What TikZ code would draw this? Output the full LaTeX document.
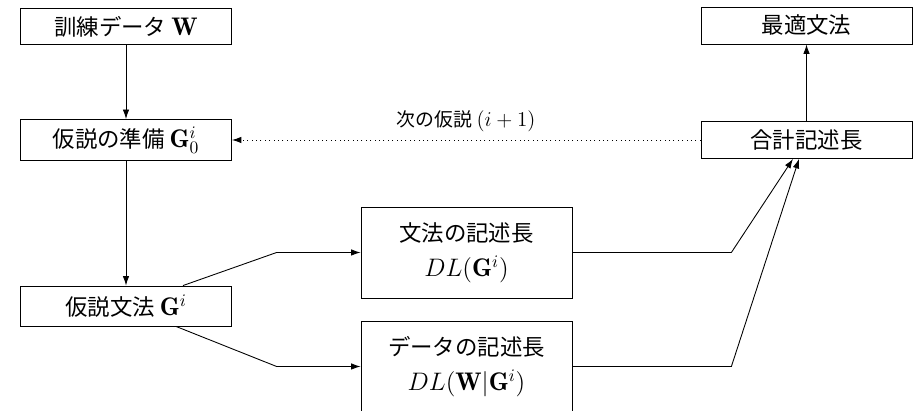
\documentclass[tikz,border=0pt]{standalone}
\usepackage{fontspec}
\newfontfamily\jp[Scale=0.88]{Noto Sans CJK JP}
\usetikzlibrary{calc,arrows.meta}
\begin{document}
\begin{tikzpicture}[x=0.02cm,y=-0.02cm,>={Latex[length=1.9mm,width=1.3mm]},line width=0.5pt,
  box/.style={draw, minimum width=4.22cm, inner sep=0pt, align=center, font=\fontsize{14.5}{17}\selectfont\jp}]
  \useasboundingbox (0,0) rectangle (917,411);

  \node[box,minimum height=0.72cm] at (126,26.5) (train) {訓練データ $\mathbf{W}$};
  \node[box,minimum height=0.82cm] at (126,140) (prep) {仮説の準備 $\mathbf{G}_0^i$};
  \node[box,minimum height=0.80cm] at (126,306) (hyp) {仮説文法 $\mathbf{G}^i$};

  \node[box,minimum height=1.82cm] at (466.5,252.5) (dlg) {文法の記述長\\[3pt]$DL(\mathbf{G}^i)$};
  \node[box,minimum height=1.82cm] at (466.5,366.5) (dld) {データの記述長\\[3pt]$DL(\mathbf{W}|\mathbf{G}^i)$};

  \node[box,minimum height=0.74cm] at (806.5,25.5) (best) {最適文法};
  \node[box,minimum height=0.74cm] at (806.5,140) (total) {合計記述長};

  \draw (train) edge[->] (prep);
  \draw (prep) edge[->] (hyp);
  \draw (total) edge[->] (best);

  \draw (total) edge[->,dotted] node[above,yshift=1pt,font=\fontsize{12.2}{14}\selectfont\jp] (next) {次の仮説 $(i+1)$} (prep);

  \draw[->] ([xshift=1.14cm]hyp.north) -- ([xshift=-1.68cm]dlg.west) -- (dlg.west);
  \draw[->] ([xshift=1cm]hyp.south) -- ([xshift=-1.68cm]dld.west) -- (dld.west);

  \draw[->] (dlg.east) -- ([xshift=3.18cm]dlg.east) -- ([xshift=-0.27cm]total.south);
  \draw[->] (dld.east) -- ([xshift=3.18cm]dld.east) -- ([xshift=-0.15cm]total.south);
\end{tikzpicture}
\end{document}
